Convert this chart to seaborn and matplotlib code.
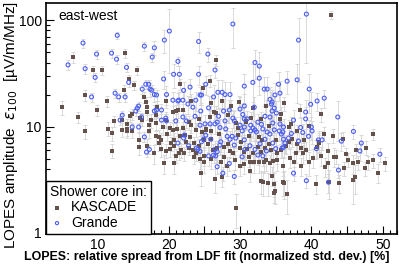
import matplotlib
matplotlib.use("Agg")
import matplotlib.pyplot as plt
import matplotlib.ticker as mticker
import numpy as np
import seaborn as sns

# KASCADE events: spread [%], amplitude eps_100 [uV/m/MHz], relative error
k_x = [6.6, 5.1, 7.3, 8.3, 9.4, 10.7, 10.0, 11.4, 13.9, 15.6,
       14.4, 13.8, 15.1, 15.2, 13.4, 16.6, 16.8, 17.0, 17.0, 18.3,
       19.7, 22.0, 19.7, 20.6, 21.3, 16.0, 16.3, 8.3, 12.0, 11.5,
       12.0, 12.4, 13.5, 14.2, 14.1, 14.2, 14.8, 14.6, 14.8, 15.8,
       15.9, 17.5, 17.3, 17.3, 18.2, 18.2, 18.7, 18.7, 19.0, 19.0,
       19.4, 20.8, 19.7, 21.8, 23.4, 23.8, 20.7, 20.3, 24.5, 26.5,
       27.5, 29.4, 30.6, 31.4, 33.0, 33.2, 33.9, 34.8, 34.9, 34.5,
       36.0, 34.8, 36.2, 36.6, 40.6, 42.5, 43.9, 45.8, 46.1, 49.3,
       50.3, 48.6, 47.5, 47.9, 46.6, 45.9, 44.6, 43.4, 42.4, 41.4,
       48.7, 39.7, 38.6, 37.6, 31.4, 32.0, 32.6, 33.3, 33.6, 34.2,
       34.6, 24.4, 24.9, 26.6, 42.8, 41.4, 37.2, 39.6, 41.0, 41.1,
       40.8, 42.4, 43.2, 38.0, 38.5, 38.8, 36.8, 37.3, 36.5, 35.8,
       37.8, 39.2, 21.0, 20.6, 20.2, 21.2, 22.0, 22.3, 23.0, 22.5,
       20.8, 20.2, 21.5, 21.0, 22.8, 22.2, 23.5, 23.6, 24.3, 25.0,
       25.5, 26.0, 26.2, 27.8, 28.3, 28.6, 29.0, 29.3, 27.8, 26.8,
       30.0, 30.5, 31.0, 31.3, 31.8, 32.5, 33.0, 33.5, 34.0, 34.4,
       35.2, 35.0, 30.2, 29.7, 31.2, 32.6, 33.1, 27.0, 26.0, 25.3,
       24.7, 23.8, 23.2, 22.8, 24.2, 25.8, 26.6, 28.3, 29.5, 30.8,
       31.6, 33.0, 34.0, 35.6, 36.8, 38.0, 18.2, 19.2, 19.8, 21.6,
       17.0, 18.0, 25.0, 26.0, 27.4, 28.2, 30.0, 36.0, 35.2, 37.0,
       40.2, 41.9, 44.8, 45.2, 43.0, 41.8, 39.0, 28.8, 29.8, 27.5,
       26.0, 23.2, 24.8, 25.8, 21.6, 35.7, 38.4, 44.5, 46.2, 47.6,
       31.8, 33.6, 36.2, 25.2, 26.3, 29.7, 30.8]
k_y = [45, 15.2, 12.3, 19.8, 34, 34, 14.3, 17.4, 49, 34,
       28, 22, 24.5, 24.5, 11.5, 19, 17, 15.2, 13.7, 15.2,
       17.4, 14.3, 11.5, 13.7, 14.3, 12.0, 11.6, 9.0, 5.9, 9.5,
       8.7, 11.3, 9.3, 10.6, 9.1, 9.5, 9.1, 12.5, 13.1, 7.5,
       6.4, 11.5, 9.1, 10.3, 12.8, 8.1, 8.0, 7.0, 6.1, 7.5,
       4.5, 4.5, 5.9, 6.0, 6.0, 5.6, 7.5, 7.0, 3.7, 3.2,
       3.35, 1.72, 4.45, 3.8, 3.08, 3.0, 2.95, 2.9, 2.48, 3.45,
       3.0, 2.4, 2.95, 2.33, 2.9, 3.0, 2.95, 3.15, 3.35, 3.7,
       4.5, 4.85, 4.07, 4.6, 4.6, 4.5, 4.07, 5.2, 4.5, 5.3,
       8.5, 4.6, 4.25, 4.6, 4.6, 4.6, 4.6, 4.6, 4.8, 4.5,
       4.7, 5.0, 5.3, 42, 112, 13.1, 10.6, 10.1, 7.2, 7.0,
       6.4, 5.9, 5.2, 6.8, 6.3, 5.6, 7.2, 7.6, 6.5, 6.0,
       5.7, 6.0, 14.0, 9.3, 9.7, 9.5, 9.7, 8.4, 8.0, 7.2,
       6.5, 6.1, 5.7, 5.3, 6.3, 5.6, 5.2, 7.0, 6.6, 7.4,
       6.8, 7.6, 6.0, 6.4, 6.8, 5.9, 5.6, 4.9, 5.2, 6.3,
       6.3, 5.8, 6.1, 5.2, 5.6, 6.4, 5.8, 6.3, 6.8, 6.0,
       5.6, 7.5, 7.2, 8.4, 8.2, 8.0, 7.4, 8.6, 9.0, 9.5,
       8.8, 9.3, 10.3, 11.0, 11.8, 12.2, 13.5, 12.8, 10.8, 11.2,
       12.0, 11.8, 10.2, 11.9, 10.0, 9.0, 10.8, 9.9, 8.6, 8.2,
       6.6, 5.6, 4.6, 5.0, 4.6, 4.3, 4.3, 4.3, 4.8, 5.1,
       5.1, 4.2, 5.5, 4.9, 8.2, 8.6, 7.5, 15.5, 17.0, 17.5,
       16.8, 17.5, 23.0, 27.0, 25.0, 13.2, 14.2, 7.7, 6.0, 6.3,
       14.8, 15.5, 16.5, 9.3, 13.7, 9.7, 11.0]
k_err = [.12, .15, .12, .12, .10, .10, .12, .12, .10, .10,
         .10, .12, .10, .10, .15, .12, .12, .15, .15, .15,
         .15, .15, .15, .15, .15, .12, .12, .15, .15, .15,
         .15, .12, .15, .12, .15, .15, .15, .12, .12, .15,
         .15, .15, .15, .15, .15, .15, .15, .15, .15, .15,
         .20, .20, .15, .15, .15, .15, .15, .15, .25, .25,
         .20, .35, .20, .20, .25, .25, .25, .25, .25, .20,
         .25, .20, .30, .35, .20, .30, .20, .40, .30, .20,
         .15, .15, .15, .15, .15, .20, .15, .15, .30, .20,
         .12, .25, .20, .25, .20, .20, .20, .20, .20, .20,
         .20, .20, .20, .12, .08, .15, .15, .15, .20, .20,
         .20, .20, .20, .15, .15, .20, .15, .15, .15, .15,
         .20, .20, .15, .15, .15, .15, .15, .15, .15, .15,
         .15, .15, .15, .15, .15, .15, .15, .15, .15, .15,
         .15, .15, .15, .15, .15, .15, .15, .20, .20, .15,
         .15, .15, .15, .20, .20, .15, .15, .15, .15, .15,
         .20, .15, .15, .15, .15, .15, .15, .15, .15, .15,
         .15, .15, .15, .15, .15, .15, .15, .15, .15, .15,
         .15, .15, .15, .15, .15, .15, .15, .15, .15, .15,
         .15, .20, .20, .20, .20, .20, .20, .20, .20, .20,
         .20, .20, .15, .15, .15, .15, .15, .15, .15, .15,
         .15, .15, .12, .12, .12, .15, .15, .15, .15, .15,
         .15, .15, .15, .15, .15, .15, .15]

# Grande events
g_x = [5.9, 8.0, 8.3, 9.9, 9.7, 9.2, 12.8, 12.0, 12.7, 14.1,
       14.4, 12.5, 13.0, 13.9, 16.6, 18.0, 17.7, 20.1, 19.4, 21.3,
       20.7, 21.5, 19.3, 24.2, 24.2, 16.8, 17.2, 17.4, 18.0, 16.3,
       19.7, 20.6, 21.4, 22.0, 29.0, 25.5, 26.5, 39.3, 38.2, 32.1,
       32.7, 32.7, 31.8, 30.6, 33.4, 33.8, 35.4, 36.6, 38.0, 39.7,
       35.6, 34.9, 34.2, 41.8, 40.8, 39.9, 34.8, 30.6, 30.0, 28.5,
       27.7, 25.6, 26.3, 26.9, 27.5, 27.9, 28.6, 25.2, 39.2, 43.7,
       33.5, 34.2, 30.6, 29.2, 45.9, 39.2, 47.0, 44.2, 46.8, 49.6,
       40.0, 40.1, 39.6, 41.0, 41.5, 38.2, 40.7, 36.8, 36.3, 36.1,
       36.0, 43.8, 42.4, 39.3, 29.2, 27.6, 26.8, 26.3, 28.5, 37.5,
       16.6, 16.9, 17.3, 21.3, 22.1, 22.2, 22.8, 24.1, 26.6, 22.7,
       24.4, 24.6, 23.8, 23.4, 34.5, 30.3, 30.0, 30.6, 31.5, 31.8,
       32.1, 31.5, 32.3, 33.2, 33.8, 34.2, 34.8, 35.5, 35.8, 36.1,
       34.6, 36.1, 35.9, 30.6, 29.4, 28.2, 28.6, 28.9, 29.2, 27.3,
       26.5, 26.8, 27.2, 25.9, 25.2, 24.9, 24.6, 23.9, 24.4, 25.6,
       31.4, 32.1, 33.7, 32.5, 33.2, 30.3, 30.7, 22.1, 23.0, 24.5,
       25.8, 26.5, 25.1, 24.4, 21.0, 19.7, 22.0, 22.5, 23.7, 26.8,
       27.9, 30.4, 32.0, 34.4, 34.5, 35.1, 35.6, 34.6, 15.8, 15.6,
       15.4, 13.5, 13.2, 14.9, 15.8, 16.2, 17.6, 18.3, 18.0, 18.3,
       19.0, 19.6, 19.0, 21.3, 27.0, 29.0, 28.0, 27.2, 31.0, 32.5,
       33.0, 37.5, 38.5, 37.2, 38.8, 33.5, 32.8, 35.0]
g_y = [38, 61, 35, 48, 29, 19, 72, 49, 43, 36,
       26, 20.6, 19, 19, 57, 55, 45, 79, 65, 41,
       31, 31, 28, 63, 31, 25, 25, 22.5, 20, 22.5,
       20, 17.7, 17.7, 17.7, 92, 48, 34, 114, 65, 40,
       37, 28.5, 26, 24, 22.5, 22.5, 25, 26.7, 27.5, 22.5,
       20.6, 19.8, 18, 18.5, 17.4, 16.2, 14.9, 15.6, 14.6, 14.3,
       14, 15, 19, 21, 21, 20, 20, 25, 13.7, 12.3,
       12.5, 12.3, 11.8, 11.3, 9.0, 11.8, 7.0, 7.3, 5.9, 5.5,
       9.9, 9.1, 8.1, 7.5, 7.5, 7.3, 6.2, 7.8, 7.0, 6.4,
       8.9, 3.9, 3.0, 3.1, 3.4, 3.65, 4.2, 5.4, 4.5, 3.65,
       8.0, 5.75, 6.1, 7.0, 7.8, 8.3, 6.6, 6.1, 5.3, 16.3,
       19.8, 19.8, 17.7, 15.2, 17, 9.1, 10.3, 9.9, 10.3, 9.7,
       9.3, 9.1, 8.9, 9.5, 8.9, 8.5, 9.3, 9.1, 8.5, 9.9,
       7.0, 7.6, 6.3, 7.5, 7.8, 8.1, 7.6, 8.1, 6.7, 7.2,
       6.1, 5.8, 6.7, 7.6, 8.3, 7.6, 7.2, 6.3, 5.85, 5.3,
       6.6, 6.1, 5.9, 5.4, 5.3, 5.2, 6.1, 21.9, 23.5, 14,
       10.6, 10.6, 10.6, 10.3, 11.3, 11.3, 12.3, 11.3, 12.5, 11,
       11.3, 13, 15.2, 16.3, 14.0, 13.4, 10.6, 10.8, 15.6, 14.9,
       14, 12.8, 11.5, 9.9, 9.9, 12.3, 22, 19.8, 14, 14.3,
       14.3, 12, 11.5, 17.4, 12.5, 12.0, 9.5, 9.8, 11.8, 11.0,
       10.5, 11.5, 9.8, 8.6, 8.8, 7.6, 6.9, 6.2]
g_err = [.10, .10, .10, .10, .10, .10, .08, .10, .10, .10,
         .10, .10, .10, .10, .10, .15, .10, .60, .25, .10,
         .25, .20, .20, .22, .20, .10, .10, .15, .15, .10,
         .20, .20, .20, .20, .40, .15, .15, .65, .60, .30,
         .35, .30, .50, .30, .30, .30, .30, .25, .40, .40,
         .30, .30, .30, .20, .20, .30, .30, .30, .30, .25,
         .30, .30, .30, .30, .30, .30, .30, .20, .30, .40,
         .30, .30, .30, .25, .15, .30, .20, .20, .20, .15,
         .25, .25, .25, .20, .20, .20, .20, .20, .20, .20,
         .20, .15, .20, .15, .15, .15, .15, .15, .15, .15,
         .10, .10, .10, .12, .12, .12, .12, .12, .15, .20,
         .20, .20, .20, .20, .30, .20, .20, .20, .20, .20,
         .20, .20, .20, .20, .20, .20, .20, .20, .20, .20,
         .20, .20, .20, .20, .20, .20, .20, .20, .20, .20,
         .20, .20, .20, .20, .20, .20, .20, .20, .20, .20,
         .20, .20, .20, .20, .20, .20, .20, .20, .20, .20,
         .20, .20, .20, .20, .15, .15, .15, .15, .20, .20,
         .20, .25, .25, .30, .30, .30, .20, .20, .10, .10,
         .10, .10, .10, .10, .10, .10, .12, .12, .15, .15,
         .15, .15, .15, .20, .20, .20, .20, .20, .20, .20,
         .20, .25, .25, .20, .20, .20, .20, .20]

sns.set_theme(style="ticks")
plt.rcParams['font.family'] = ['Liberation Sans', 'DejaVu Sans']
plt.rcParams.update({'text.color': 'black', 'axes.labelcolor': 'black',
                     'xtick.color': 'black', 'ytick.color': 'black'})

brown = '#65524d'
blue = '#4a5df5'
bar_grey = '#d4d4d4'

fig = plt.figure(figsize=(3.99, 2.72), dpi=100)
ax = fig.add_axes([0.115, 0.14, 0.88, 0.849])

kx = np.array(k_x)
ky = np.array(k_y)
gx = np.array(g_x)
gy = np.array(g_y)

ax.errorbar(kx, ky, yerr=ky * np.array(k_err), fmt='none', ecolor=bar_grey,
            elinewidth=0.6, capsize=1.3, capthick=0.6, zorder=1)
ax.errorbar(gx, gy, yerr=gy * np.array(g_err), fmt='none', ecolor=bar_grey,
            elinewidth=0.6, capsize=1.3, capthick=0.6, zorder=1)

sns.scatterplot(x=kx, y=ky, ax=ax, marker='s', color=brown, s=11,
                linewidth=0, label='KASCADE', zorder=3)
sns.scatterplot(x=gx, y=gy, ax=ax, marker='o', color=blue, facecolor='none',
                edgecolor=blue, s=8, linewidth=0.8, label='Grande', zorder=4)

ax.set_yscale('log')
ax.set_xlim(2.8, 52)
ax.set_ylim(0.98, 145)

ax.xaxis.set_major_locator(mticker.MultipleLocator(5))
ax.xaxis.set_minor_locator(mticker.MultipleLocator(1))
ax.xaxis.set_major_formatter(mticker.FuncFormatter(
    lambda v, p: f'{v:.0f}' if round(v) % 10 == 0 else ''))
ax.yaxis.set_major_locator(mticker.LogLocator(base=10))
ax.yaxis.set_minor_locator(mticker.LogLocator(base=10, subs=range(2, 10)))
ax.yaxis.set_major_formatter(mticker.FuncFormatter(lambda v, p: f'{v:g}'))
ax.yaxis.set_minor_formatter(mticker.NullFormatter())
ax.tick_params(which='both', direction='in', top=False, right=False,
               labelsize=10, width=0.8)
ax.tick_params(which='major', length=6, pad=3)
ax.tick_params(which='minor', length=3)

for s in ax.spines.values():
    s.set_color('black')
    s.set_linewidth(1.2)

ax.set_xlabel('LOPES: relative spread from LDF fit (normalized std. dev.) [%]',
              fontsize=8.9, fontweight='bold')
ax.xaxis.set_label_coords(0.457, -0.075)
ax.set_ylabel('LOPES amplitude  $\\varepsilon_{100}$  [µV/m/MHz]', fontsize=11)
ax.yaxis.set_label_coords(-0.075, 0.47)

ax.text(0.035, 0.975, 'east-west', transform=ax.transAxes, va='top',
        ha='left', fontsize=10)

leg = ax.legend(title='Shower core in:', loc='lower left', borderaxespad=0,
                frameon=True, fancybox=False, edgecolor='black', fontsize=10,
                title_fontsize=10, handlelength=1.0, handletextpad=0.5,
                labelspacing=0.1, borderpad=0.3, alignment='left',
                markerscale=0.8)
leg.get_frame().set_linewidth(1.0)
leg.get_frame().set_facecolor('white')
leg.get_frame().set_alpha(1)

fig.savefig('out.png', dpi=100)
